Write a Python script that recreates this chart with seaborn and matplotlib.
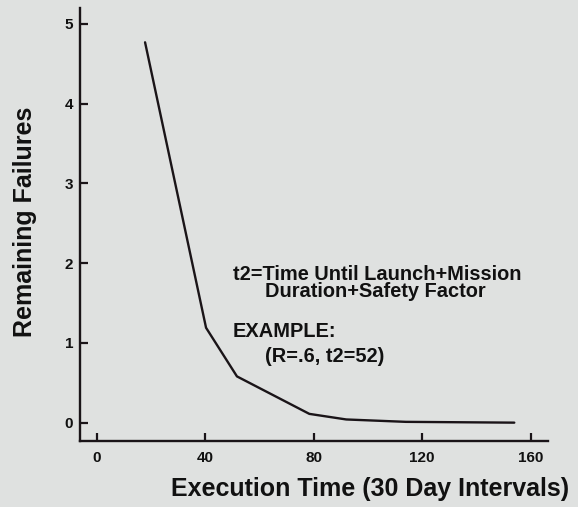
import seaborn as sns
import matplotlib.pyplot as plt
import pandas as pd

# values
exec_time = [17.8, 40.3, 51.7, 78.4, 92, 114, 154]
remaining = [4.77, 1.19, 0.58, 0.11, 0.04, 0.01, 0.0]
x_ticks = [0, 40, 80, 120, 160]
y_ticks = [0, 1, 2, 3, 4, 5]

df = pd.DataFrame({"time": exec_time, "failures": remaining})

sns.set_style("ticks")
plt.rcParams['font.family'] = ['Liberation Sans', 'DejaVu Sans']
bg = '#dfe1e0'
ink = '#1a1418'

fig = plt.figure(figsize=(5.78, 5.07), dpi=100, facecolor=bg)
ax = fig.add_axes([0.1384, 0.1302, 0.81, 0.854])
ax.set_facecolor(bg)

sns.lineplot(data=df, x="time", y="failures", ax=ax, color=ink,
             linewidth=1.7, sort=False)

ax.set_xlim(-6.2, 166.5)
ax.set_ylim(-0.23, 5.2)
ax.set_xticks(x_ticks)
ax.set_yticks(y_ticks)
ax.tick_params(axis='both', direction='in', length=6, width=1.6,
               color=ink, labelsize=11, labelcolor='#111')
ax.tick_params(axis='x', pad=7)
ax.tick_params(axis='y', pad=5)
for lab in ax.get_xticklabels() + ax.get_yticklabels():
    lab.set_fontweight('bold')

sns.despine(ax=ax)
for s in ['left', 'bottom']:
    ax.spines[s].set_linewidth(1.7)
    ax.spines[s].set_color(ink)

ax.set_xlabel('Execution Time (30 Day Intervals)', fontsize=18, fontweight='bold',
              color='#111')
ax.xaxis.set_label_coords(0.62, -0.083)
ax.set_ylabel('Remaining Failures', fontsize=18, fontweight='bold', color='#111')
ax.yaxis.set_label_coords(-0.092, 0.506)

note = dict(fontsize=14.4, fontweight='bold', va='center', ha='left',
            color='#111')
ax.text(50.2, 1.86, 't2=Time Until Launch+Mission', **note)
ax.text(62, 1.645, 'Duration+Safety Factor', **note)
ax.text(50.2, 1.144, 'EXAMPLE:', **note)
ax.text(62, 0.83, '(R=.6, t2=52)', **note)

fig.savefig('out.png', dpi=100, facecolor=bg)
